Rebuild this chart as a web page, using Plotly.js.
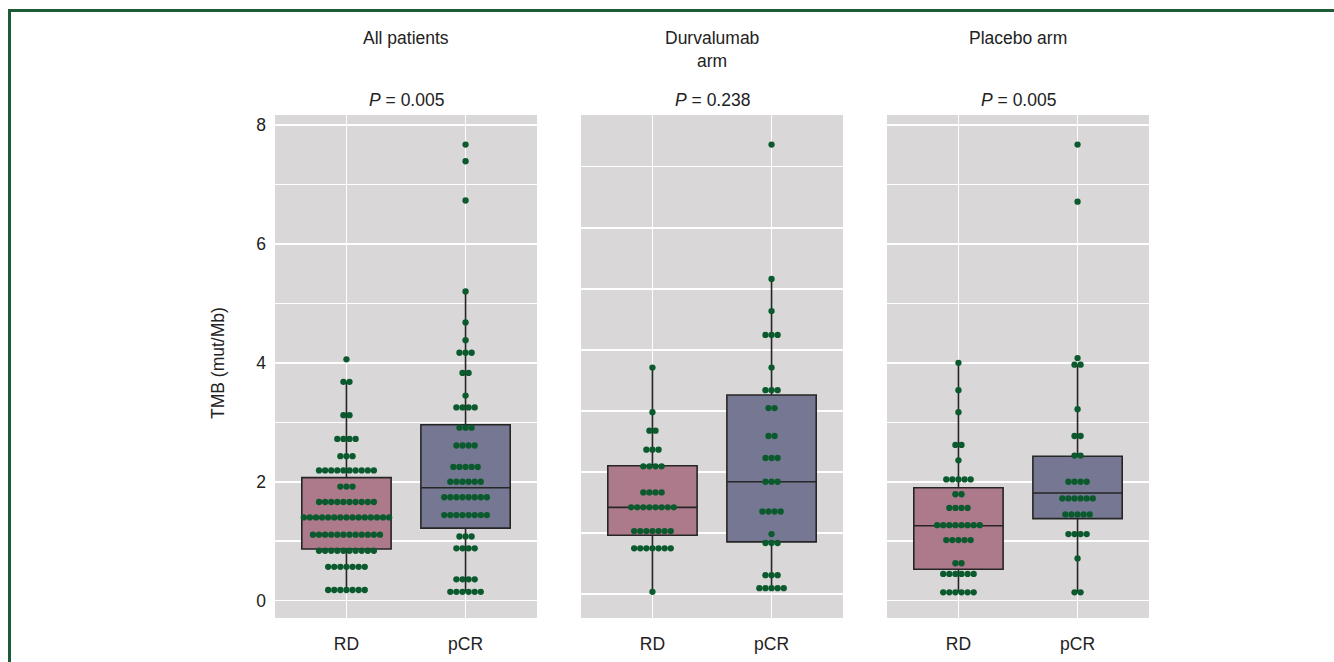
<!DOCTYPE html>
<html>
<head>
<meta charset="utf-8">
<script src="https://cdn.plot.ly/plotly-3.0.1.min.js"></script>
<style>
  html, body { margin: 0; padding: 0; background: #ffffff; overflow: hidden; }
  #wrap { position: relative; width: 1334px; height: 662px; }
  #chart { width: 1334px; height: 662px; }
  #frame { position: absolute; left: 8px; top: 9px; width: 1400px; height: 700px;
           border-top: 3px solid #1d5a36; border-left: 3px solid #1d5a36; pointer-events: none; }
</style>
</head>
<body>
<div id="wrap">
  <div id="chart"></div>
  <div id="frame"></div>
</div>
<script>
// ---------------- data ----------------
const categories = ["RD", "pCR"];
const panelTitles = ["All patients", "Durvalumab<br>arm", "Placebo arm"];
const pValues = ["0.005", "0.238", "0.005"];
const yTickVals = [0, 2, 4, 6, 8];
const yAxisTitle = "TMB (mut/Mb)";

// All patients
const allRD = [4.06,
  3.68, 3.68,
  3.12, 3.12,
  2.72, 2.72, 2.72, 2.72,
  2.43, 2.43, 2.43,
  2.19, 2.19, 2.19, 2.19, 2.19, 2.19, 2.19, 2.19, 2.19, 2.19,
  1.92, 1.92, 1.92,
  1.66, 1.66, 1.66, 1.66, 1.66, 1.66, 1.66, 1.66, 1.66, 1.66,
  1.40, 1.40, 1.40, 1.40, 1.40, 1.40, 1.40, 1.40, 1.40, 1.40, 1.40, 1.40, 1.40, 1.40, 1.40,
  1.11, 1.11, 1.11, 1.11, 1.11, 1.11, 1.11, 1.11, 1.11, 1.11, 1.11, 1.11,
  0.84, 0.84, 0.84, 0.84, 0.84, 0.84, 0.84, 0.84, 0.84, 0.84,
  0.57, 0.57, 0.57, 0.57, 0.57, 0.57, 0.57,
  0.18, 0.18, 0.18, 0.18, 0.18, 0.18, 0.18];
const allPCR = [7.67, 7.39, 6.73, 5.20, 4.68, 4.38,
  4.17, 4.17, 4.17,
  3.83, 3.83,
  3.45,
  3.25, 3.25, 3.25, 3.25,
  2.91, 2.91, 2.91,
  2.61, 2.61, 2.61, 2.61,
  2.25, 2.25, 2.25, 2.25, 2.25,
  2.00, 2.00, 2.00, 2.00, 2.00, 2.00,
  1.74, 1.74, 1.74, 1.74, 1.74, 1.74, 1.74, 1.74,
  1.44, 1.44, 1.44, 1.44, 1.44, 1.44, 1.44, 1.44,
  1.08, 1.08, 1.08,
  0.88, 0.88, 0.88, 0.88,
  0.36, 0.36, 0.36, 0.36,
  0.15, 0.15, 0.15, 0.15, 0.15, 0.15];

// Durvalumab arm
const durRD = [3.92, 3.17,
  2.86, 2.86,
  2.54, 2.54, 2.54,
  2.26, 2.26, 2.26, 2.26,
  1.82, 1.82, 1.82, 1.82,
  1.57, 1.57, 1.57, 1.57, 1.57, 1.57, 1.57, 1.57,
  1.17, 1.17, 1.17, 1.17, 1.17, 1.17, 1.17,
  0.88, 0.88, 0.88, 0.88, 0.88, 0.88, 0.88,
  0.15];
const durPCR = [7.67, 5.41, 4.87,
  4.47, 4.47, 4.47,
  3.92,
  3.54, 3.54, 3.54,
  3.24, 3.24,
  2.77, 2.77,
  2.40, 2.40, 2.40,
  2.00, 2.00, 2.00,
  1.50, 1.50, 1.50, 1.50,
  1.12,
  0.97, 0.97, 0.97,
  0.43, 0.43, 0.43,
  0.21, 0.21, 0.21, 0.21, 0.21];

// Placebo arm
const plaRD = [4.00, 3.54, 3.17,
  2.62, 2.62,
  2.36,
  2.04, 2.04, 2.04, 2.04, 2.04,
  1.79, 1.79,
  1.56, 1.56, 1.56, 1.56,
  1.27, 1.27, 1.27, 1.27, 1.27, 1.27, 1.27, 1.27,
  1.02, 1.02, 1.02, 1.02, 1.02,
  0.63, 0.63,
  0.45, 0.45, 0.45, 0.45, 0.45, 0.45,
  0.14, 0.14, 0.14, 0.14, 0.14, 0.14];
const plaPCR = [7.67, 6.71, 4.08,
  3.97, 3.97,
  3.22,
  2.77, 2.77,
  2.44, 2.44,
  2.00, 2.00, 2.00, 2.00,
  1.72, 1.72, 1.72, 1.72, 1.72, 1.72,
  1.45, 1.45, 1.45, 1.45, 1.45,
  1.12, 1.12, 1.12, 1.12,
  0.71,
  0.14, 0.14];

// box statistics: [RD, pCR] per panel
const boxQ1     = [[0.87, 1.22], [1.10, 0.99], [0.53, 1.38]];
const boxMedian = [[1.40, 1.90], [1.57, 2.00], [1.26, 1.81]];
const boxQ3     = [[2.07, 2.96], [2.27, 3.46], [1.90, 2.43]];
const boxLow    = [[0.18, 0.15], [0.15, 0.21], [0.14, 0.14]];
const boxHigh   = [[3.68, 5.20], [3.92, 5.41], [4.00, 3.97]];

const panelData = [[allRD, allPCR], [durRD, durPCR], [plaRD, plaPCR]];

// ---------------- styling ----------------
const boxColors = ["#ad7a8c", "#767893"];
const dotColor = "#0b5a2e";
const bg = "#d9d7d8";
const textColor = "#222222";
const FONT = "Liberation Sans, Arial, sans-serif";
const FS = 17.5;
const W = 1334, H = 662;
const panelX = [[275, 537], [581, 843], [887, 1149]];
const plotTop = 115, plotBottom = 618;
const yRange = [-0.291, 8.168];
const xRange = [-0.6, 1.6];
const dotStep = 0.0512; // swarm spacing in category units

function swarmX(values, center) {
  // group equal values, spread them symmetrically around the category center
  const groups = {};
  values.forEach((v, i) => { (groups[v] = groups[v] || []).push(i); });
  const xs = new Array(values.length);
  Object.keys(groups).forEach(k => {
    const idx = groups[k], n = idx.length;
    idx.forEach((ii, j) => { xs[ii] = center + (j - (n - 1) / 2) * dotStep; });
  });
  return xs;
}

const traces = [];
const layout = {
  width: W, height: H,
  margin: {l: 0, r: 0, t: 0, b: 0},
  paper_bgcolor: "#ffffff",
  plot_bgcolor: bg,
  showlegend: false,
  font: {family: FONT, color: textColor, size: FS},
  annotations: [],
};

const yDomain = [(H - plotBottom) / H, (H - plotTop) / H];

for (let p = 0; p < 3; p++) {
  const sfx = p === 0 ? "" : String(p + 1);
  const xa = "x" + sfx, ya = "y" + sfx;
  for (let c = 0; c < 2; c++) {
    traces.push({
      type: "box", xaxis: xa, yaxis: ya,
      x: [c], q1: [boxQ1[p][c]], median: [boxMedian[p][c]], q3: [boxQ3[p][c]],
      lowerfence: [boxLow[p][c]], upperfence: [boxHigh[p][c]],
      width: 0.75, whiskerwidth: 0,
      fillcolor: boxColors[c],
      line: {color: "#262626", width: 1.6},
      boxpoints: false, hoverinfo: "skip",
    });
  }
  for (let c = 0; c < 2; c++) {
    const vals = panelData[p][c];
    traces.push({
      type: "scatter", mode: "markers", xaxis: xa, yaxis: ya,
      x: swarmX(vals, c), y: vals,
      marker: {color: dotColor, size: 6.3, line: {width: 0}},
      hoverinfo: "y",
    });
  }
  layout["xaxis" + sfx] = {
    domain: [panelX[p][0] / W, panelX[p][1] / W],
    anchor: ya, range: xRange,
    tickmode: "array", tickvals: [0, 1], ticktext: categories,
    showgrid: true, gridcolor: "#ffffff", gridwidth: 1.5,
    zeroline: false, showline: false, ticks: "",
    ticklabelstandoff: 13,
    tickfont: {family: FONT, size: FS, color: textColor},
    fixedrange: true,
  };
  const yax = {
    domain: yDomain, anchor: xa, range: yRange,
    showgrid: true, gridcolor: "#ffffff", gridwidth: 1.5,
    zeroline: false, showline: false, ticks: "",
    tickfont: {family: FONT, size: FS, color: textColor},
    fixedrange: true,
  };
  if (p === 1) {
    // this panel's grid sits on its own spacing in the reference
    yax.tickmode = "linear"; yax.tick0 = 0.113; yax.dtick = 1.0264;
    yax.showticklabels = false;
  } else {
    yax.tickmode = "array"; yax.tickvals = yTickVals;
    yax.minor = {dtick: 1, tick0: 0, showgrid: true, gridcolor: "#ffffff", gridwidth: 1.5, ticks: ""};
    yax.showticklabels = (p === 0);
    yax.ticklabelstandoff = 8;
  }
  layout["yaxis" + sfx] = yax;

  const cx = (panelX[p][0] + panelX[p][1]) / 2 / W;
  if (p === 1) {
    layout.annotations.push({
      xref: "paper", yref: "paper", x: cx, y: (H - 38) / H, xanchor: "center", yanchor: "middle",
      text: "Durvalumab", showarrow: false, font: {family: FONT, size: FS, color: textColor},
    });
    layout.annotations.push({
      xref: "paper", yref: "paper", x: cx, y: (H - 61) / H, xanchor: "center", yanchor: "middle",
      text: "arm", showarrow: false, font: {family: FONT, size: FS, color: textColor},
    });
  } else {
    layout.annotations.push({
      xref: "paper", yref: "paper", x: cx, y: (H - 38) / H, xanchor: "center", yanchor: "middle",
      text: panelTitles[p], showarrow: false, font: {family: FONT, size: FS, color: textColor},
    });
  }
  layout.annotations.push({
    xref: "paper", yref: "paper", x: cx, y: (H - 100) / H, xanchor: "center", yanchor: "middle",
    text: "<i>P</i> = " + pValues[p], showarrow: false, font: {family: FONT, size: FS, color: textColor},
  });
}

layout.annotations.push({
  xref: "paper", yref: "paper", x: 218 / W, y: (H - 363) / H,
  xanchor: "center", yanchor: "middle", textangle: -90,
  text: yAxisTitle, showarrow: false, font: {family: FONT, size: FS, color: textColor},
});

Plotly.newPlot("chart", traces, layout, {displayModeBar: false, staticPlot: true});
</script>
</body>
</html>
